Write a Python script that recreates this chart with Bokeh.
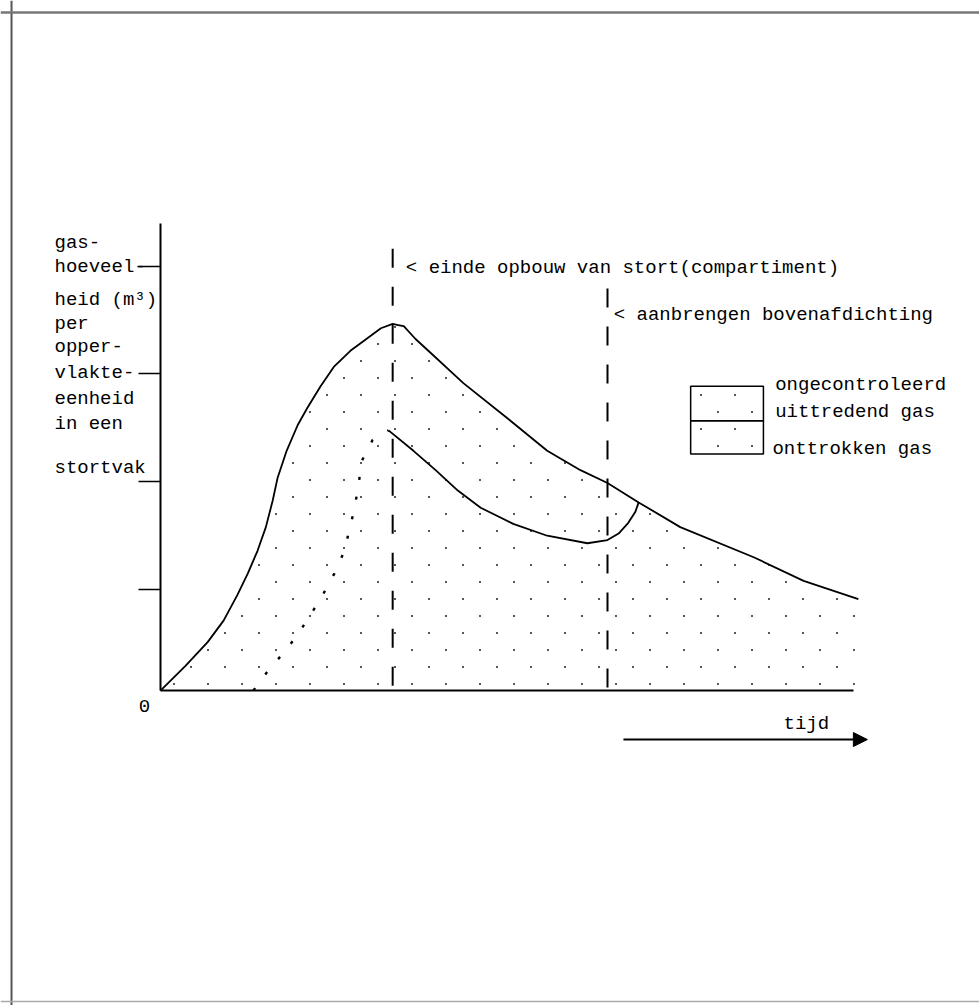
import base64
import struct
import zlib

from bokeh.plotting import figure
from bokeh.models import (Range1d, LinearAxis, FixedTicker, Span, Arrow, NormalHead,
                          ImageURLTexture)
from bokeh.core.properties import value
from bokeh.embed import file_html
from bokeh.resources import INLINE

# ---------------- data (time units / gas-quantity units) ----------------
# upper curve: total gas production per unit area
prod_t = [0, 0.36, 0.68, 0.91, 1.11, 1.26, 1.40, 1.52, 1.62, 1.69, 1.82, 1.98, 2.12,
          2.31, 2.50, 2.74, 2.99, 3.18, 3.35, 3.43, 3.51, 3.68, 3.90, 4.37, 5.01,
          5.58, 6.06, 6.45, 6.90, 7.50, 8.56, 9.28, 10.07]
prod_g = [0, 0.23, 0.45, 0.65, 0.89, 1.09, 1.30, 1.52, 1.77, 1.98, 2.23, 2.47, 2.63,
          2.83, 3.01, 3.16, 3.28, 3.37, 3.41, 3.40, 3.39, 3.27, 3.14, 2.86, 2.53,
          2.23, 2.05, 1.93, 1.75, 1.52, 1.24, 1.02, 0.85]

# dotted boundary before end of filling
pre_t = [1.34, 1.57, 1.79, 1.99, 2.18, 2.35, 2.51, 2.64, 2.73, 2.80, 2.86, 2.90, 3.06, 3.29]
pre_g = [0.00, 0.20, 0.36, 0.53, 0.72, 0.90, 1.09, 1.28, 1.50, 1.70, 1.92, 2.13, 2.33, 2.42]

# solid boundary: extracted gas
extr_t = [3.29, 3.65, 3.97, 4.29, 4.62, 5.09, 5.58, 6.16, 6.45, 6.61, 6.75, 6.85, 6.90]
extr_g = [2.42, 2.23, 2.05, 1.86, 1.70, 1.55, 1.44, 1.37, 1.40, 1.46, 1.56, 1.66, 1.75]

# events (dashed verticals)
event_t = [3.35, 6.45]
event_top = [4.11, 3.74]
event_labels = ["< einde opbouw van stort(compartiment)", "< aanbrengen bovenafdichting"]
event_label_t = [3.54, 6.54]
event_label_g = [3.93, 3.49]

# y-axis ticks
y_ticks = [0.94, 1.94, 2.95, 3.94]
y_top = 4.34
t_end = 10.0

# y-axis title lines
ylab_lines = ["gas-", "hoeveel-", "heid (m\u00b3)", "per", "opper-", "vlakte-",
              "eenheid", "in een", "stortvak"]
ylab_g = [4.16, 3.94, 3.63, 3.41, 3.20, 2.95, 2.71, 2.48, 2.07]
ylab_t = -1.53

# legend
legend_box_t = [7.65, 8.70]
legend_box_g = [2.20, 2.51, 2.83]
legend_labels = ["ongecontroleerd", "uittredend gas", "onttrokken gas"]
legend_label_t = [8.87, 8.87, 8.83]
legend_label_g = [2.84, 2.59, 2.25]

# time arrow
arrow_t = [6.68, 10.20]
arrow_g = -0.456

FONT = value("Liberation Mono")
FS = "19px"


# ---------------- stipple texture: a small PNG tile with two specks ----------------
def stipple_png(size=34, speck=2):
    rows = []
    for yy in range(size):
        row = bytearray([0])
        for xx in range(size):
            on = ((3 <= xx < 3 + speck and 3 <= yy < 3 + speck) or
                  (3 + size // 2 <= xx < 3 + size // 2 + speck and
                   3 + size // 2 <= yy < 3 + size // 2 + speck))
            row += bytes([60, 60, 60, 220]) if on else bytes([0, 0, 0, 0])
        rows.append(bytes(row))
    raw = b"".join(rows)

    def chunk(tag, data):
        c = struct.pack(">I", len(data)) + tag + data
        return c + struct.pack(">I", zlib.crc32(tag + data) & 0xffffffff)

    png = b"\x89PNG\r\n\x1a\n"
    png += chunk(b"IHDR", struct.pack(">IIBBBBB", size, size, 8, 6, 0, 0, 0))
    png += chunk(b"IDAT", zlib.compress(raw, 9))
    png += chunk(b"IEND", b"")
    return "data:image/png;base64," + base64.b64encode(png).decode()


stipple = ImageURLTexture(url=stipple_png(), repetition="repeat")
HATCH = dict(hatch_pattern=value("stipple"), hatch_extra={"stipple": stipple},
             hatch_scale=34, hatch_color="#444444", hatch_alpha=0.9)

# ---------------- figure ----------------
p = figure(width=979, height=1005,
           x_range=Range1d(-2.309, 11.818), y_range=Range1d(-2.930, 6.419),
           x_axis_type=None, y_axis_type=None, output_backend="svg",
           toolbar_location=None, min_border=0)
p.outline_line_color = None
p.background_fill_color = "white"
p.border_fill_color = "white"

# scan border
p.add_layout(Span(location=-2.150, dimension="height", line_color="#555555", line_width=2))
p.add_layout(Span(location=6.308, dimension="width", line_color="#777777", line_width=2.5))
p.add_layout(Span(location=-2.893, dimension="width", line_color="#aaaaaa", line_width=1.5))

# stippled area under production curve
p.varea(x=prod_t, y1=[0] * len(prod_t), y2=prod_g, fill_color=None, **HATCH)

# axes
xaxis = LinearAxis(fixed_location=0, bounds=(0, t_end), ticker=FixedTicker(ticks=[]),
                   axis_line_width=2, axis_line_color="black",
                   major_label_text_color=None, major_tick_line_color=None,
                   minor_tick_line_color=None)
p.add_layout(xaxis, "below")
yaxis = LinearAxis(fixed_location=0, bounds=(0, y_top), ticker=FixedTicker(ticks=y_ticks),
                   axis_line_width=2, axis_line_color="black",
                   major_tick_out=22, major_tick_in=0, major_tick_line_width=1.5,
                   major_label_text_color=None, minor_tick_line_color=None)
p.add_layout(yaxis, "left")

# dashed event lines
for t, top in zip(event_t, event_top):
    p.line(x=[t, t], y=[top, 0], line_color="black", line_width=2, line_dash="19 19")

# curves
p.line(x=prod_t, y=prod_g, line_color="black", line_width=1.8)
p.line(x=extr_t, y=extr_g, line_color="black", line_width=1.8)
p.line(x=pre_t, y=pre_g, line_color="black", line_width=2.4, line_dash="3 17")

# legend box
p.quad(left=[legend_box_t[0]] * 2, right=[legend_box_t[1]] * 2,
       bottom=legend_box_g[:2], top=legend_box_g[1:],
       fill_color=None, line_color="black", line_width=1.5, **HATCH)

# texts
TXT = dict(text_font=FONT, text_font_size=FS, text_baseline="middle", text_color="black")
p.text(x=event_label_t, y=event_label_g, text=event_labels, text_align="left", **TXT)
p.text(x=legend_label_t, y=legend_label_g, text=legend_labels, text_align="left", **TXT)
p.text(x=[ylab_t] * len(ylab_lines), y=ylab_g, text=ylab_lines, text_align="left", **TXT)
p.text(x=[-0.23], y=[-0.14], text=["0"], text_align="center", **TXT)
p.text(x=[8.99], y=[-0.307], text=["tijd"], text_align="left", **TXT)

# time arrow
p.add_layout(Arrow(x_start=arrow_t[0], y_start=arrow_g, x_end=arrow_t[1], y_end=arrow_g,
                   line_width=2, line_color="black",
                   end=NormalHead(size=14, fill_color="black", line_color="black")))

open("out.html", "w").write(file_html(p, INLINE))
